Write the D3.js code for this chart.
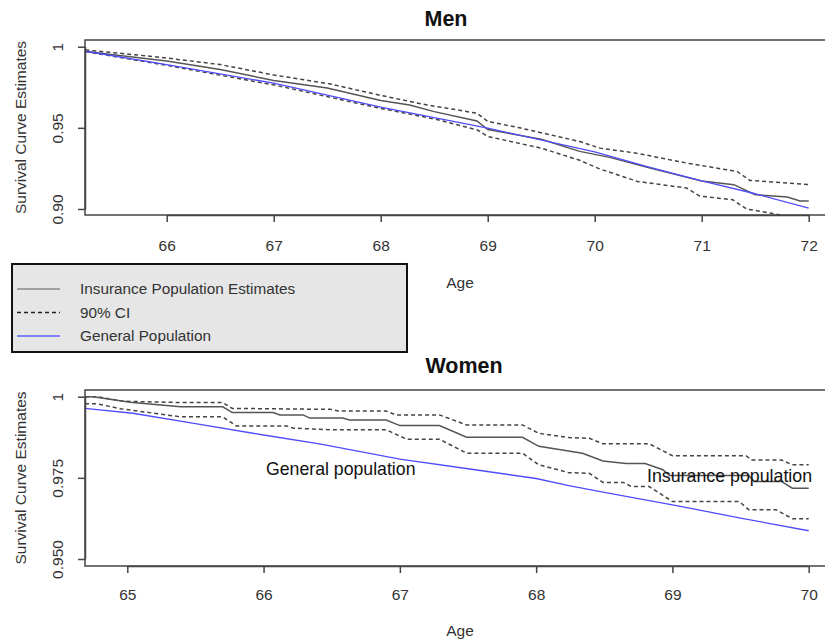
<!DOCTYPE html>
<html>
<head>
<meta charset="utf-8">
<script src="https://cdn.jsdelivr.net/npm/d3@7/dist/d3.min.js"></script>
<style>
    body { margin: 0; background: #fff; }
    svg { display: block; font-family: "Liberation Sans", Arial, sans-serif; }
</style>
</head>
<body>
<svg id="chart" width="825" height="643"></svg>
<script>
//
// DATA
//
// men: [age, survival]
const menInsurance = [
    [65.24, 0.9972], [65.5, 0.995], [66, 0.9912], [66.5, 0.986], [67, 0.9792],
    [67.5, 0.9745], [68, 0.9668], [68.27, 0.9641], [68.5, 0.960], [68.9, 0.9542],
    [69.0, 0.949], [69.5, 0.943], [69.86, 0.9355], [70.14, 0.9318], [70.5, 0.9255],
    [71.0, 0.9172], [71.3, 0.915], [71.5, 0.9088], [71.8, 0.9074], [71.92, 0.905], [72, 0.905]
]
const menUpper = [
    [65.24, 0.998], [65.91, 0.9937], [66.5, 0.989], [67, 0.9826], [67.53, 0.977],
    [68, 0.970], [68.4, 0.9645], [68.9, 0.959], [69.0, 0.954], [69.3, 0.950],
    [69.86, 0.9416], [70.05, 0.9375], [70.39, 0.9344], [70.86, 0.9283], [71.33, 0.9231],
    [71.45, 0.9176], [72, 0.915]
]
const menLower = [
    [65.24, 0.997], [66, 0.9885], [67, 0.9765], [68, 0.962], [68.5, 0.9555],
    [68.9, 0.9488], [69.0, 0.9447], [69.5, 0.9375], [69.86, 0.930], [70.05, 0.9246],
    [70.4, 0.917], [70.86, 0.9129], [70.98, 0.908], [71.29, 0.9057], [71.42, 0.900],
    [71.64, 0.8975], [71.8, 0.8955], [72, 0.8955]
]
const menGeneral = [
    [65.24, 0.9972], [66, 0.989], [67, 0.9775], [68, 0.9627], [69, 0.9498],
    [70, 0.9352], [70.5, 0.926], [71, 0.9174], [71.5, 0.9094], [72, 0.9006]
]
// women: [age, survival]
const womenInsurance = [
    [64.69, 1.0], [64.75, 1.0], [65.02, 0.9983], [65.39, 0.9969], [65.70, 0.9969],
    [65.77, 0.9951], [66.07, 0.9951], [66.12, 0.9944], [66.29, 0.9944], [66.34, 0.9934],
    [66.58, 0.9934], [66.63, 0.9928], [66.9, 0.9928], [67.0, 0.9911], [67.29, 0.9911],
    [67.49, 0.9875], [67.9, 0.9875], [68.02, 0.9847], [68.34, 0.9826], [68.49, 0.9802],
    [68.66, 0.9794], [68.8, 0.9794], [68.93, 0.9775], [68.98, 0.9757], [69.56, 0.9757],
    [69.6, 0.9739], [69.8, 0.9739], [69.88, 0.9718], [70.0, 0.9718]
]
const womenUpper = [
    [64.69, 1.0], [64.78, 1.0], [64.97, 0.9986], [65.39, 0.9982], [65.70, 0.9982],
    [65.77, 0.9964], [66.49, 0.9961], [66.55, 0.9956], [66.9, 0.9956], [66.97, 0.9944],
    [67.29, 0.9944], [67.49, 0.9913], [67.9, 0.9913], [68.02, 0.9887], [68.24, 0.9874],
    [68.39, 0.9872], [68.49, 0.9855], [68.83, 0.9855], [69.0, 0.9818], [69.54, 0.9818],
    [69.58, 0.9805], [69.8, 0.9805], [69.88, 0.979], [70.0, 0.979]
]
const womenLower = [
    [64.69, 0.9978], [64.78, 0.9978], [64.95, 0.9963], [65.39, 0.9938], [65.70, 0.9938],
    [65.8, 0.991], [66.17, 0.991], [66.22, 0.9903], [66.5, 0.9898], [66.9, 0.9898],
    [67.05, 0.9869], [67.29, 0.9869], [67.49, 0.9826], [67.9, 0.9826], [68.02, 0.979],
    [68.24, 0.9766], [68.39, 0.9764], [68.49, 0.9736], [68.64, 0.9736], [68.7, 0.9723],
    [68.83, 0.9723], [69.0, 0.9677], [69.49, 0.9677], [69.56, 0.9652], [69.76, 0.9652],
    [69.88, 0.9624], [70.0, 0.9624]
]
const womenGeneral = [
    [64.69, 0.9964], [65.04, 0.9949], [65.5, 0.9917], [66, 0.9882], [66.41, 0.9855],
    [67, 0.9808], [67.5, 0.9778], [68, 0.9748], [68.24, 0.9726], [68.5, 0.9705],
    [69, 0.9667], [69.5, 0.9626], [70, 0.9587]
]
// ticks
const menAgeTicks = [66, 67, 68, 69, 70, 71, 72]
const menValueTicks = [0.90, 0.95, 1]
const menValueLabels = ['0.90', '0.95', '1']
const womenAgeTicks = [65, 66, 67, 68, 69, 70]
const womenValueTicks = [0.95, 0.975, 1]
const womenValueLabels = ['0.950', '0.975', '1']
const legendLabels = ['Insurance Population Estimates', '90% CI', 'General Population']

//
// STYLES
//
const FONT_AXIS = 15.5
const styles = {
    insurance: { stroke: '#555', width: 1.5, dash: null },
    ci: { stroke: '#444', width: 1.5, dash: '4,3' },
    general: { stroke: '#4d4dff', width: 1.3, dash: null }
}

const svg = d3.select('#chart')

// draws one R-style survival panel
const plotPanel = (opts) => {
    const { box, x, y, series, ageTicks, valueTicks, valueLabels, title, titleX, titleY, ageLabelY, id } = opts
    const g = svg.append('g').attr('class', 'panel ' + id)

    g.append('clipPath')
        .attr('id', 'clip-' + id)
        .append('rect')
        .attr('x', box.left)
        .attr('y', box.top)
        .attr('width', box.right - box.left)
        .attr('height', box.bottom - box.top)

    // lines
    const line = d3.line().x(d => x(d[0])).y(d => y(d[1]))
    const plot = g.append('g').attr('clip-path', `url(#clip-${id})`)
    series.forEach(s => {
        plot.append('path')
            .datum(s.data)
            .attr('d', line)
            .attr('fill', 'none')
            .attr('stroke', s.style.stroke)
            .attr('stroke-width', s.style.width)
            .attr('stroke-dasharray', s.style.dash)
    })

    // box (right side runs off the page)
    g.append('rect')
        .attr('x', box.left)
        .attr('y', box.top)
        .attr('width', box.right - box.left)
        .attr('height', box.bottom - box.top)
        .attr('fill', 'none')
        .attr('stroke', '#444')
        .attr('stroke-width', 1.5)

    // x axis
    const xAxis = g.append('g')
        .attr('transform', `translate(0,${box.bottom})`)
        .call(d3.axisBottom(x).tickValues(ageTicks).tickSize(7).tickSizeOuter(0).tickFormat(d3.format('d')))
    xAxis.select('.domain').attr('stroke', '#444').attr('stroke-width', 1.5)
    xAxis.selectAll('.tick line').attr('stroke', '#444').attr('stroke-width', 1.5)
    xAxis.selectAll('.tick text')
        .attr('y', opts.tickLabelY)
        .attr('dy', 0)
        .attr('fill', '#333')
        .style('font-size', FONT_AXIS + 'px')
        .style('font-family', '"Liberation Sans", Arial, sans-serif')

    // y axis, labels rotated like R
    const yAxis = g.append('g')
        .attr('transform', `translate(${box.left},0)`)
        .call(d3.axisLeft(y).tickValues(valueTicks).tickSize(7).tickSizeOuter(0).tickFormat((d, i) => valueLabels[i]))
    yAxis.select('.domain').attr('stroke', '#444').attr('stroke-width', 1.5)
    yAxis.selectAll('.tick line').attr('stroke', '#444').attr('stroke-width', 1.5)
    yAxis.selectAll('.tick text')
        .attr('transform', 'rotate(-90)')
        .attr('x', 0)
        .attr('y', -22)
        .attr('dy', 0)
        .attr('text-anchor', 'middle')
        .attr('fill', '#333')
        .style('font-size', FONT_AXIS + 'px')
        .style('font-family', '"Liberation Sans", Arial, sans-serif')

    // y label
    g.append('text')
        .attr('transform', `translate(26,${(box.top + box.bottom) / 2}) rotate(-90)`)
        .attr('text-anchor', 'middle')
        .attr('fill', '#333')
        .style('font-size', '15.5px')
        .text('Survival Curve Estimates')

    // x label
    g.append('text')
        .attr('x', 460)
        .attr('y', ageLabelY)
        .attr('text-anchor', 'middle')
        .attr('fill', '#333')
        .style('font-size', '15.5px')
        .text('Age')

    // title
    g.append('text')
        .attr('x', titleX)
        .attr('y', titleY)
        .attr('text-anchor', 'middle')
        .attr('fill', '#111')
        .style('font-size', '21.5px')
        .style('font-weight', 'bold')
        .text(title)

    return g
}

// 1) Men
const menBox = { left: 85, right: 830, top: 40, bottom: 215 }
const xMen = d3.scaleLinear().domain([66, 72]).range([166.7, 808.7])
const yMen = d3.scaleLinear().domain([0.90, 1]).range([209, 46.7])
plotPanel({
    id: 'men', box: menBox, x: xMen, y: yMen,
    series: [
        { data: menUpper, style: styles.ci },
        { data: menLower, style: styles.ci },
        { data: menInsurance, style: styles.insurance },
        { data: menGeneral, style: styles.general }
    ],
    ageTicks: menAgeTicks, valueTicks: menValueTicks, valueLabels: menValueLabels,
    title: 'Men', titleX: 446, titleY: 26, ageLabelY: 288, tickLabelY: 36
})

// 2) Women
const womenBox = { left: 85, right: 830, top: 390, bottom: 566 }
const xWomen = d3.scaleLinear().domain([65, 70]).range([127.3, 808.7])
const yWomen = d3.scaleLinear().domain([0.95, 1]).range([559, 396.7])
const women = plotPanel({
    id: 'women', box: womenBox, x: xWomen, y: yWomen,
    series: [
        { data: womenUpper, style: styles.ci },
        { data: womenLower, style: styles.ci },
        { data: womenInsurance, style: styles.insurance },
        { data: womenGeneral, style: styles.general }
    ],
    ageTicks: womenAgeTicks, valueTicks: womenValueTicks, valueLabels: womenValueLabels,
    title: 'Women', titleX: 464, titleY: 373, ageLabelY: 636, tickLabelY: 34
})

// annotations on the women panel
women.append('text')
    .attr('x', 266).attr('y', 475)
    .attr('fill', '#111')
    .style('font-size', '17.7px')
    .text('General population')
women.append('text')
    .attr('x', 647).attr('y', 482)
    .attr('fill', '#111')
    .style('font-size', '17.8px')
    .text('Insurance population')

// 3) Legend
const legend = svg.append('g').attr('class', 'legend')
legend.append('rect')
    .attr('x', 12).attr('y', 264)
    .attr('width', 395).attr('height', 88)
    .attr('fill', '#e6e6e6')
    .attr('stroke', '#111')
    .attr('stroke-width', 2)
const legendStyles = [
    { stroke: '#888', width: 1.3, dash: null },
    { stroke: '#222', width: 1.3, dash: '4,3' },
    { stroke: '#6060ff', width: 1.5, dash: null }
]
legendLabels.forEach((label, i) => {
    const ly = 289 + i * 23.5
    legend.append('line')
        .attr('x1', 17).attr('x2', 60)
        .attr('y1', ly).attr('y2', ly)
        .attr('stroke', legendStyles[i].stroke)
        .attr('stroke-width', legendStyles[i].width)
        .attr('stroke-dasharray', legendStyles[i].dash)
    legend.append('text')
        .attr('x', 80).attr('y', ly + 5)
        .attr('fill', '#333')
        .style('font-size', '15.3px')
        .text(label)
})
</script>
</body>
</html>
